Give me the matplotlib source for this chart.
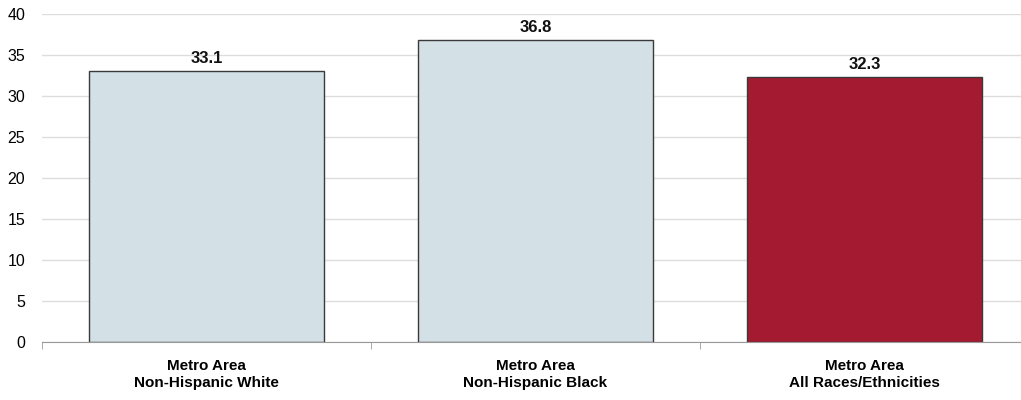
import matplotlib
matplotlib.use('Agg')
import matplotlib.pyplot as plt
from matplotlib.ticker import FixedLocator

categories = ['Metro Area\nNon-Hispanic White', 'Metro Area\nNon-Hispanic Black',
              'Metro Area\nAll Races/Ethnicities']
values = [33.1, 36.8, 32.3]
colors = ['#d3e0e5', '#d3e0e5', '#a31a31']
yticks = [0, 5, 10, 15, 20, 25, 30, 35, 40]

plt.rcParams['font.family'] = ['Liberation Sans Narrow', 'Liberation Sans', 'DejaVu Sans']

fig = plt.figure(figsize=(10.21, 4), dpi=100)
ax = fig.add_axes([42 / 1021, 58 / 400, 987 / 1021, 328 / 400])

x = range(len(categories))
bars = ax.bar(x, values, width=0.715, color=colors, edgecolor='#3a3a3a', linewidth=1, zorder=3)
for b, v in zip(bars, values):
    ax.text(b.get_x() + b.get_width() / 2, v + 0.6, f'{v:.1f}', ha='center', va='bottom',
            fontsize=12, fontweight='bold', color='#111111')

ax.set_xlim(-0.5, 2.5)
ax.set_ylim(0, 40)
ax.set_yticks(yticks)
ax.yaxis.grid(True, color='#dddddd', linewidth=1, zorder=0)
ax.tick_params(axis='y', length=0, labelsize=11.5, pad=12)
ax.set_xticks(list(x))
ax.set_xticklabels(categories, fontsize=11, fontweight='bold', linespacing=1.3)
ax.tick_params(axis='x', length=0, pad=12)
ax.xaxis.set_minor_locator(FixedLocator([-0.5, 0.5, 1.5]))
ax.tick_params(axis='x', which='minor', length=5, color='#999999')

for s in ['top', 'right', 'left']:
    ax.spines[s].set_visible(False)
ax.spines['bottom'].set_color('#999999')
ax.spines['bottom'].set_zorder(4)

fig.savefig('out.png', dpi=100)
